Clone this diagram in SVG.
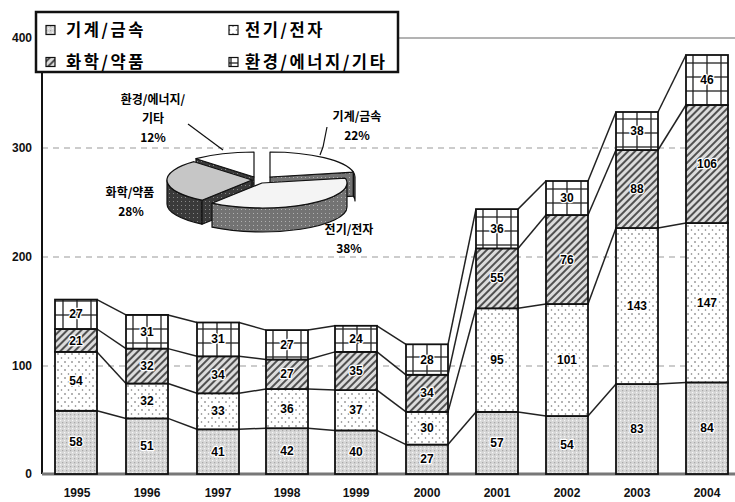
<svg xmlns="http://www.w3.org/2000/svg" width="735" height="502" viewBox="0 0 735 502">
<style>
.seg{stroke:#111;stroke-width:1.8}
.lbl{font-family:"Liberation Sans",Arial,sans-serif;font-weight:bold;font-size:12px;text-anchor:middle;fill:#000;paint-order:stroke;stroke:#fff;stroke-width:2.5px;stroke-linejoin:round}
.ax{font-family:"Liberation Sans",Arial,sans-serif;font-weight:bold;font-size:12px;fill:#111}
.leg{font-family:"Noto Sans CJK KR","Noto Sans",sans-serif;font-weight:bold;font-size:16.5px;letter-spacing:2.6px;fill:#000}
.pl{font-family:"Noto Sans CJK KR","Noto Sans",sans-serif;font-weight:bold;font-size:12px;text-anchor:middle;fill:#000}
.con{stroke:#222;stroke-width:1.5;fill:none}
.grid{stroke:#9a9a9a;stroke-width:1.2;stroke-dasharray:6 5}
.pie{stroke:#111;stroke-width:1.2;stroke-linejoin:round}
</style>
<defs>
<pattern id="pMach" width="4" height="4" patternUnits="userSpaceOnUse"><rect width="4" height="4" fill="#d6d6d6"/><rect x="0" y="0" width="1.2" height="1.2" fill="#f6f6f6"/><rect x="2" y="2" width="1.2" height="1.2" fill="#a8a8a8"/></pattern>
<pattern id="pElec" width="7" height="8" patternUnits="userSpaceOnUse"><rect width="7" height="8" fill="#fff"/><circle cx="2" cy="2" r="0.8" fill="#555"/><circle cx="5.5" cy="6" r="0.8" fill="#777"/></pattern>
<pattern id="pChem" width="5" height="5" patternUnits="userSpaceOnUse" patternTransform="rotate(45)"><rect width="5" height="5" fill="#dcdcdc"/><line x1="1" y1="0" x2="1" y2="5" stroke="#222" stroke-width="1.5"/></pattern>
<pattern id="pEnv" width="14" height="14" patternUnits="userSpaceOnUse"><rect width="14" height="14" fill="#fff"/><line x1="0" y1="7" x2="14" y2="7" stroke="#222" stroke-width="1.3"/><line x1="7" y1="0" x2="7" y2="14" stroke="#222" stroke-width="1.3"/></pattern>
<pattern id="pDark" width="4" height="4" patternUnits="userSpaceOnUse"><rect width="4" height="4" fill="#3a3a3a"/><rect x="1" y="1" width="1" height="1" fill="#888"/></pattern>
<pattern id="pMid" width="4" height="4" patternUnits="userSpaceOnUse"><rect width="4" height="4" fill="#737373"/><rect x="1" y="1" width="1" height="1" fill="#b0b0b0"/></pattern>
</defs>
<rect width="735" height="502" fill="#fff"/>

<g id="axes">
<line x1="398" y1="38" x2="735" y2="38" stroke="#9a9a9a" stroke-width="1.5"/>
<line class="grid" x1="42" y1="148" x2="735" y2="148"/>
<line class="grid" x1="42" y1="257" x2="735" y2="257"/>
<line class="grid" x1="42" y1="366" x2="735" y2="366"/>
<line x1="42" y1="38" x2="42" y2="474" stroke="#111" stroke-width="2"/>
<line x1="42" y1="474" x2="735" y2="474" stroke="#777" stroke-width="3"/>
<text class="ax" x="32" y="42" text-anchor="end">400</text>
<text class="ax" x="32" y="152" text-anchor="end">300</text>
<text class="ax" x="32" y="261" text-anchor="end">200</text>
<text class="ax" x="32" y="370" text-anchor="end">100</text>
<text class="ax" x="32" y="478" text-anchor="end">0</text>
<text class="ax" x="77" y="497" text-anchor="middle">1995</text>
<text class="ax" x="147" y="497" text-anchor="middle">1996</text>
<text class="ax" x="218" y="497" text-anchor="middle">1997</text>
<text class="ax" x="287" y="497" text-anchor="middle">1998</text>
<text class="ax" x="356" y="497" text-anchor="middle">1999</text>
<text class="ax" x="427" y="497" text-anchor="middle">2000</text>
<text class="ax" x="497" y="497" text-anchor="middle">2001</text>
<text class="ax" x="567" y="497" text-anchor="middle">2002</text>
<text class="ax" x="637" y="497" text-anchor="middle">2003</text>
<text class="ax" x="707" y="497" text-anchor="middle">2004</text>
</g>

<g id="connectors">
<polyline class="con" points="97,410.8 126,418.4"/><polyline class="con" points="97,351.9 126,383.5"/><polyline class="con" points="97,329 126,348.6"/><polyline class="con" points="97,299.6 126,314.9"/>
<polyline class="con" points="168,418.4 197,429.3"/><polyline class="con" points="168,383.5 197,393.3"/><polyline class="con" points="168,348.6 197,356.3"/><polyline class="con" points="168,314.9 197,322.5"/>
<polyline class="con" points="239,429.3 266,428.2"/><polyline class="con" points="239,393.3 266,389"/><polyline class="con" points="239,356.3 266,359.5"/><polyline class="con" points="239,322.5 266,330.1"/>
<polyline class="con" points="308,428.2 335,430.4"/><polyline class="con" points="308,389 335,390.1"/><polyline class="con" points="308,359.5 335,351.9"/><polyline class="con" points="308,330.1 335,325.8"/>
<polyline class="con" points="377,430.4 406,444.6"/><polyline class="con" points="377,390.1 406,411.9"/><polyline class="con" points="377,351.9 406,374.8"/><polyline class="con" points="377,325.8 406,344.3"/>
<polyline class="con" points="448,444.6 476,411.9"/><polyline class="con" points="448,411.9 476,308.3"/><polyline class="con" points="448,374.8 476,248.4"/><polyline class="con" points="448,344.3 476,209.1"/>
<polyline class="con" points="518,411.9 546,416"/><polyline class="con" points="518,308.3 546,304"/><polyline class="con" points="518,248.4 546,215"/><polyline class="con" points="518,209.1 546,181"/>
<polyline class="con" points="588,416 616,384"/><polyline class="con" points="588,304 616,228"/><polyline class="con" points="588,215 616,150"/><polyline class="con" points="588,181 616,112"/>
<polyline class="con" points="658,384 686,382.4"/><polyline class="con" points="658,228 686,223"/><polyline class="con" points="658,150 686,105"/><polyline class="con" points="658,112 686,55"/>
</g>

<g id="bar-1995">
<rect class="seg" x="55" y="410.8" width="42" height="63.2" fill="url(#pMach)"/>
<rect class="seg" x="55" y="351.9" width="42" height="58.9" fill="url(#pElec)"/>
<rect class="seg" x="55" y="329" width="42" height="22.9" fill="url(#pChem)"/>
<rect class="seg" x="55" y="299.6" width="42" height="29.4" fill="url(#pEnv)"/>
<text class="lbl" x="76" y="446.4">58</text><text class="lbl" x="76" y="385.4">54</text><text class="lbl" x="76" y="344.5">21</text><text class="lbl" x="76" y="318.3">27</text>
</g>
<g id="bar-1996">
<rect class="seg" x="126" y="418.4" width="42" height="55.6" fill="url(#pMach)"/>
<rect class="seg" x="126" y="383.5" width="42" height="34.9" fill="url(#pElec)"/>
<rect class="seg" x="126" y="348.6" width="42" height="34.9" fill="url(#pChem)"/>
<rect class="seg" x="126" y="314.9" width="42" height="33.7" fill="url(#pEnv)"/>
<text class="lbl" x="147" y="450.2">51</text><text class="lbl" x="147" y="405">32</text><text class="lbl" x="147" y="370">32</text><text class="lbl" x="147" y="335.8">31</text>
</g>
<g id="bar-1997">
<rect class="seg" x="197" y="429.3" width="42" height="44.7" fill="url(#pMach)"/>
<rect class="seg" x="197" y="393.3" width="42" height="36" fill="url(#pElec)"/>
<rect class="seg" x="197" y="356.3" width="42" height="37" fill="url(#pChem)"/>
<rect class="seg" x="197" y="322.5" width="42" height="33.8" fill="url(#pEnv)"/>
<text class="lbl" x="218" y="455.7">41</text><text class="lbl" x="218" y="415.3">33</text><text class="lbl" x="218" y="378.8">34</text><text class="lbl" x="218" y="343.4">31</text>
</g>
<g id="bar-1998">
<rect class="seg" x="266" y="428.2" width="42" height="45.8" fill="url(#pMach)"/>
<rect class="seg" x="266" y="389" width="42" height="39.2" fill="url(#pElec)"/>
<rect class="seg" x="266" y="359.5" width="42" height="29.5" fill="url(#pChem)"/>
<rect class="seg" x="266" y="330.1" width="42" height="29.4" fill="url(#pEnv)"/>
<text class="lbl" x="287" y="455.1">42</text><text class="lbl" x="287" y="412.6">36</text><text class="lbl" x="287" y="378.3">27</text><text class="lbl" x="287" y="348.8">27</text>
</g>
<g id="bar-1999">
<rect class="seg" x="335" y="430.4" width="42" height="43.6" fill="url(#pMach)"/>
<rect class="seg" x="335" y="390.1" width="42" height="40.3" fill="url(#pElec)"/>
<rect class="seg" x="335" y="351.9" width="42" height="38.2" fill="url(#pChem)"/>
<rect class="seg" x="335" y="325.8" width="42" height="26.1" fill="url(#pEnv)"/>
<text class="lbl" x="356" y="456.2">40</text><text class="lbl" x="356" y="414.3">37</text><text class="lbl" x="356" y="375">35</text><text class="lbl" x="356" y="342.9">24</text>
</g>
<g id="bar-2000">
<rect class="seg" x="406" y="444.6" width="42" height="29.4" fill="url(#pMach)"/>
<rect class="seg" x="406" y="411.9" width="42" height="32.7" fill="url(#pElec)"/>
<rect class="seg" x="406" y="374.8" width="42" height="37.1" fill="url(#pChem)"/>
<rect class="seg" x="406" y="344.3" width="42" height="30.5" fill="url(#pEnv)"/>
<text class="lbl" x="427" y="463.3">27</text><text class="lbl" x="427" y="432.3">30</text><text class="lbl" x="427" y="397.4">34</text><text class="lbl" x="427" y="363.6">28</text>
</g>
<g id="bar-2001">
<rect class="seg" x="476" y="411.9" width="42" height="62.1" fill="url(#pMach)"/>
<rect class="seg" x="476" y="308.3" width="42" height="103.6" fill="url(#pElec)"/>
<rect class="seg" x="476" y="248.4" width="42" height="59.9" fill="url(#pChem)"/>
<rect class="seg" x="476" y="209.1" width="42" height="39.3" fill="url(#pEnv)"/>
<text class="lbl" x="497" y="447">57</text><text class="lbl" x="497" y="364.1">95</text><text class="lbl" x="497" y="282.4">55</text><text class="lbl" x="497" y="232.8">36</text>
</g>
<g id="bar-2002">
<rect class="seg" x="546" y="416" width="42" height="58" fill="url(#pMach)"/>
<rect class="seg" x="546" y="304" width="42" height="112" fill="url(#pElec)"/>
<rect class="seg" x="546" y="215" width="42" height="89" fill="url(#pChem)"/>
<rect class="seg" x="546" y="181" width="42" height="34" fill="url(#pEnv)"/>
<text class="lbl" x="567" y="449">54</text><text class="lbl" x="567" y="364">101</text><text class="lbl" x="567" y="263.5">76</text><text class="lbl" x="567" y="202">30</text>
</g>
<g id="bar-2003">
<rect class="seg" x="616" y="384" width="42" height="90" fill="url(#pMach)"/>
<rect class="seg" x="616" y="228" width="42" height="156" fill="url(#pElec)"/>
<rect class="seg" x="616" y="150" width="42" height="78" fill="url(#pChem)"/>
<rect class="seg" x="616" y="112" width="42" height="38" fill="url(#pEnv)"/>
<text class="lbl" x="637" y="433">83</text><text class="lbl" x="637" y="310">143</text><text class="lbl" x="637" y="193">88</text><text class="lbl" x="637" y="135">38</text>
</g>
<g id="bar-2004">
<rect class="seg" x="686" y="382.4" width="42" height="91.6" fill="url(#pMach)"/>
<rect class="seg" x="686" y="223" width="42" height="159.4" fill="url(#pElec)"/>
<rect class="seg" x="686" y="105" width="42" height="118" fill="url(#pChem)"/>
<rect class="seg" x="686" y="55" width="42" height="50" fill="url(#pEnv)"/>
<text class="lbl" x="707" y="432.2">84</text><text class="lbl" x="707" y="306.7">147</text><text class="lbl" x="707" y="168">106</text><text class="lbl" x="707" y="84">46</text>
</g>

<g id="pie">
<g id="slice-env">
<path class="pie" d="M254 177 L196 158.7 L196 182.7 L254 201 Z" fill="url(#pDark)"/>
<path class="pie" d="M254 177 L196 158.7 A85 25 0 0 1 254 152 Z" fill="#fff"/>
</g>
<g id="slice-mach">
<path class="pie" d="M270 177 L353.4 172.2 L353.4 196.2 L270 201 Z" fill="url(#pMid)"/>
<path class="pie" d="M353.4 172.2 A85 25 0 0 1 355 177 L355 201 A85 25 0 0 0 353.4 196.2 Z" fill="url(#pMid)"/>
<path class="pie" d="M270 177 L270 152 A85 25 0 0 1 353.4 172.2 Z" fill="#fff"/>
</g>
<g id="slice-chem">
<path class="pie" d="M202 200.2 A85 25 0 0 1 167 180 L167 204 A85 25 0 0 0 202 224.2 Z" fill="url(#pDark)"/>
<path class="pie" d="M252 180 L202 200.2 L202 224.2 L252 204 Z" fill="url(#pDark)"/>
<path class="pie" d="M252 180 L202 200.2 A85 25 0 0 1 194 161.7 Z" fill="#c6c6c6"/>
</g>
<g id="slice-elec">
<path class="pie" d="M347 183 A85 25 0 0 1 212 203.2 L212 227.2 A85 25 0 0 0 347 207 Z" fill="url(#pMid)"/>
<path class="pie" d="M262 183 L345.4 178.2 A85 25 0 0 1 212 203.2 Z" fill="#f4f4f4"/>
</g>
<polyline points="188,124 223,150" fill="none" stroke="#111" stroke-width="1.2"/>
<polyline points="327,127 323,147 320,155" fill="none" stroke="#111" stroke-width="1.2"/>
<text class="pl" x="153" y="104">환경/에너지/</text>
<text class="pl" x="153" y="123">기타</text>
<text class="pl" x="153" y="142">12%</text>
<text class="pl" x="357" y="121">기계/금속</text>
<text class="pl" x="357" y="140">22%</text>
<text class="pl" x="130" y="197">화학/약품</text>
<text class="pl" x="131" y="216">28%</text>
<text class="pl" x="349" y="234">전기/전자</text>
<text class="pl" x="349" y="253">38%</text>
</g>

<g id="legend">
<rect x="36" y="12" width="362" height="60" fill="#fff" stroke="#111" stroke-width="2.5"/>
<rect x="46" y="25.5" width="9" height="9" fill="url(#pMach)" stroke="#111" stroke-width="1.2"/>
<text class="leg" x="66" y="36">기계/금속</text>
<rect x="229" y="25.5" width="9" height="9" fill="url(#pElec)" stroke="#111" stroke-width="1.2"/>
<text class="leg" x="245" y="36">전기/전자</text>
<rect x="46" y="57.5" width="9" height="9" fill="url(#pChem)" stroke="#111" stroke-width="1.2"/>
<text class="leg" x="66" y="68">화학/약품</text>
<rect x="229" y="57.5" width="9" height="9" fill="url(#pEnv)" stroke="#111" stroke-width="1.2"/>
<text class="leg" x="245" y="68">환경/에너지/기타</text>
</g>
</svg>
